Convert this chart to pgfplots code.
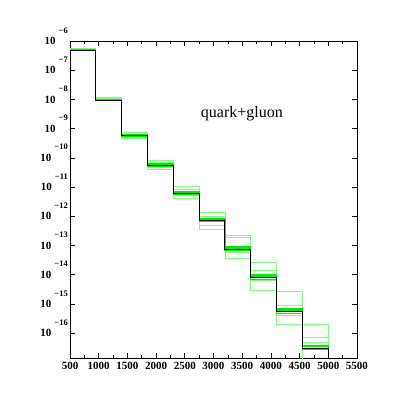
\documentclass[border=0pt]{standalone}
\usepackage{fontspec}
\setmainfont{Liberation Serif}
\usepackage{pgfplots}
\pgfplotsset{compat=1.18}
\usepackage{pgfplotstable}
\definecolor{pgreen}{RGB}{0,235,0}
\definecolor{lgreen}{RGB}{125,255,125}

\pgfplotstableread{
x k g1 g2 g3 g4 g5 g6 g7
500 4.90e-7 5.37e-7 4.68e-7 5.13e-7 5.13e-7 5.01e-7 4.79e-7 5.01e-7
950 9.55e-9 1.148e-8 9.12e-9 1.072e-8 1.023e-8 9.77e-9 9.33e-9 1.00e-8
1400 5.62e-10 7.41e-10 4.68e-10 6.61e-10 6.17e-10 5.89e-10 5.37e-10 5.13e-10
1850 5.50e-11 8.32e-11 4.07e-11 7.24e-11 6.17e-11 5.75e-11 5.13e-11 4.68e-11
2300 6.03e-12 1.023e-11 4.07e-12 8.51e-12 6.92e-12 6.46e-12 5.62e-12 5.01e-12
2750 6.92e-13 1.413e-12 3.63e-13 9.55e-13 8.13e-13 7.41e-13 6.46e-13 5.01e-13
3200 7.41e-14 2.138e-13 3.63e-14 1.905e-13 8.91e-14 8.13e-14 6.92e-14 5.62e-14
3650 7.94e-15 2.63e-14 2.88e-15 1.445e-14 9.77e-15 8.71e-15 7.08e-15 6.31e-15
4100 5.37e-16 2.69e-15 2.00e-16 8.91e-16 6.76e-16 6.03e-16 4.79e-16 3.98e-16
4550 3.09e-17 2.04e-16 1e-18 7.41e-17 3.89e-17 3.47e-17 2.88e-17 4.68e-17
5000 3.09e-17 2.04e-16 1e-18 7.41e-17 3.89e-17 3.47e-17 2.88e-17 4.68e-17
5000 1e-20 1e-20 1e-20 1e-20 1e-20 1e-20 1e-20 1e-20
}\hist

\newcommand{\ylab}[1]{\textbf{10}\smash{\raisebox{11.5pt}{\fontsize{8.5}{9}\selectfont\bfseries\hspace{3pt}−#1}}}

\begin{document}
\begin{tikzpicture}
\path[use as bounding box] (0,0) rectangle (399pt,399pt);
\begin{axis}[
  at={(70pt,41pt)}, anchor=south west,
  scale only axis, width=287pt, height=317pt,
  xmin=500, xmax=5500,
  ymode=log, log basis y=10,
  ymin=1.41e-17, ymax=1e-6,
  xtick={500,1000,...,5500},
  minor x tick num=1,
  ytick={1e-16,1e-15,1e-14,1e-13,1e-12,1e-11,1e-10,1e-9,1e-8,1e-7,1e-6},
  yticklabels={\ylab{16},\ylab{15},\ylab{14},\ylab{13},\ylab{12},\ylab{11},\ylab{10},\ylab{9},\ylab{8},\ylab{7},\ylab{6}},
  /pgf/number format/assume math mode=true,
  /pgf/number format/1000 sep={},
  tick label style={font=\fontsize{11}{12}\selectfont\bfseries},
  yticklabel style={anchor=east, inner sep=0pt, xshift=-2pt},
  xticklabel style={anchor=north, inner sep=0pt, yshift=-4pt},
  major tick length=5pt, minor tick length=3pt,
  every tick/.style={black, line width=0.6pt},
  axis line style={line width=0.8pt},
  clip=true,
]
\addplot[const plot, lgreen, line width=0.8pt] table[x=x, y=g1] {\hist};
\addplot[const plot, lgreen, line width=0.8pt] table[x=x, y=g2] {\hist};
\addplot[const plot, lgreen, line width=0.8pt] table[x=x, y=g3] {\hist};
\addplot[const plot, lgreen, line width=0.8pt] table[x=x, y=g7] {\hist};
\addplot[const plot, pgreen, line width=1.2pt] table[x=x, y=g4] {\hist};
\addplot[const plot, pgreen, line width=1.2pt] table[x=x, y=g5] {\hist};
\addplot[const plot, pgreen, line width=1.2pt] table[x=x, y=g6] {\hist};
\addplot[const plot, black, line width=1pt] table[x=x, y=k] {\hist};
\node at (rel axis cs:0.599,0.77) {\fontsize{16}{18}\selectfont quark+gluon};
\end{axis}
\end{tikzpicture}
\end{document}
